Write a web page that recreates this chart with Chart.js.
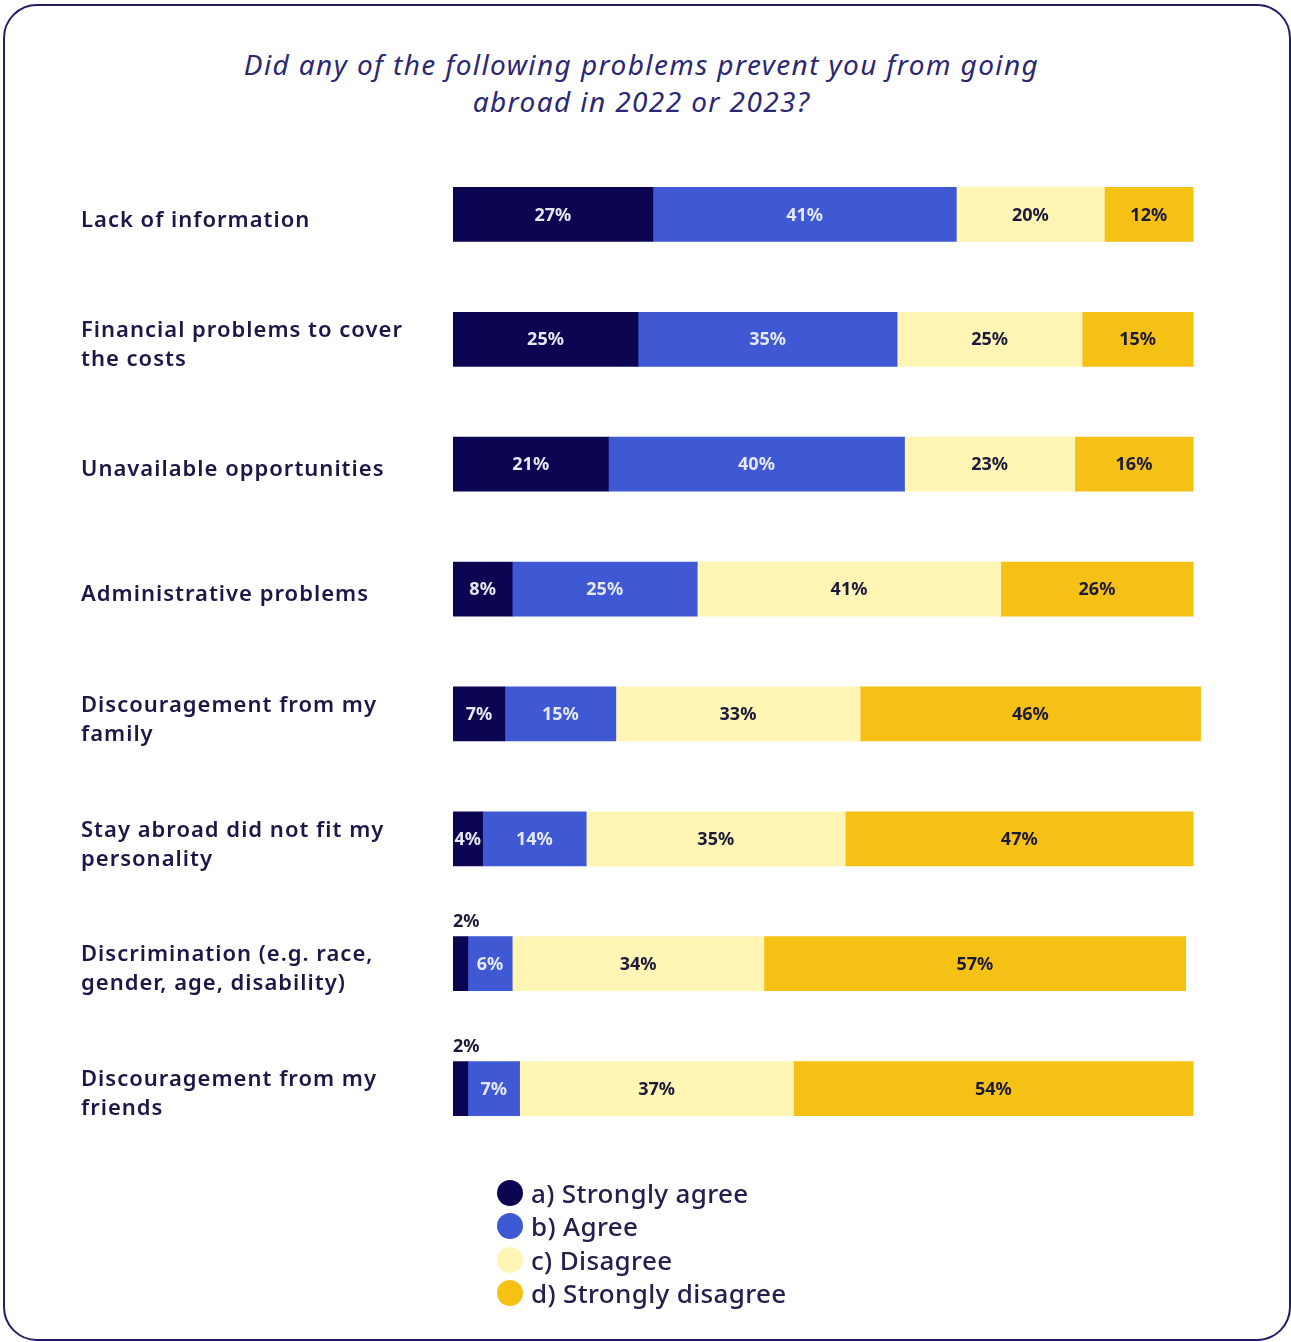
<!DOCTYPE html>
<html>
<head>
<meta charset="utf-8">
<script src="https://cdn.jsdelivr.net/npm/chart.js@4.4.1/dist/chart.umd.min.js"></script>
<style>
  html, body { margin: 0; padding: 0; background: #fff; }
  body { width: 1291px; height: 1342px; position: relative; overflow: hidden; font-family: "Noto Sans", sans-serif; }
  #card {
    position: absolute; left: 3px; top: 4px; width: 1288px; height: 1337px;
    box-sizing: border-box; border: 2px solid #231d66; border-radius: 34px;
  }
  #title {
    position: absolute; left: 0; top: 46px; width: 1283px; text-align: center;
    font-style: italic; font-size: 28px; line-height: 37px; letter-spacing: 1.4px; color: #2b2773;
  }
  #wrap { position: absolute; left: 0; top: 0; width: 1291px; height: 1342px; }
  #legend {
    position: absolute; left: 497px; top: 1176px; margin: 0; padding: 0; list-style: none;
  }
  #legend li {
    display: flex; align-items: center; height: 33.5px;
    font-size: 26px; font-weight: 500; letter-spacing: 0.35px; color: #23204d;
  }
  #legend span.dot {
    width: 26px; height: 26px; border-radius: 50%; margin-right: 8px; display: inline-block;
  }
</style>
</head>
<body>
<div id="card"></div>
<div id="title">Did any of the following problems prevent you from going<br>abroad in 2022 or 2023?</div>
<div id="wrap"><canvas id="chart"></canvas></div>
<ul id="legend"></ul>
<script>
const problems = [
    'Lack of information',
    ['Financial problems to cover', 'the costs'],
    'Unavailable opportunities',
    'Administrative problems',
    ['Discouragement from my', 'family'],
    ['Stay abroad did not fit my', 'personality'],
    ['Discrimination (e.g. race,', 'gender, age, disability)'],
    ['Discouragement from my', 'friends']
];

const answers = ['a) Strongly agree', 'b) Agree', 'c) Disagree', 'd) Strongly disagree'];

const stronglyAgree    = [27, 25, 21, 8, 7, 4, 2, 2];
const agree            = [41, 35, 40, 25, 15, 14, 6, 7];
const disagree         = [20, 25, 23, 41, 33, 35, 34, 37];
const stronglyDisagree = [12, 15, 16, 26, 46, 47, 57, 54];

const fills = ['#0c0552', '#3f58d4', '#fff5b4', '#f5c115'];
const inkColors = ['#e8e8f4', '#e4e8fa', '#1c1a3a', '#1c1a3a'];

const ctx = document.querySelector('#chart');

// wider tracking for the category names on the y axis
const axisSpacing = {
    id: 'axisSpacing',
    beforeDraw(chart) { chart.ctx.letterSpacing = '1px'; },
    beforeDatasetsDraw(chart) { chart.ctx.letterSpacing = '0px'; }
};

// percentages written on the bars; tiny slices get their label above the bar
const barLabels = {
    id: 'barLabels',
    afterDatasetsDraw(chart) {
        const c = chart.ctx;
        c.save();
        c.letterSpacing = '0px';
        c.font = 'bold 18px "Noto Sans"';
        c.textBaseline = 'middle';
        chart.data.datasets.forEach((ds, i) => {
            const meta = chart.getDatasetMeta(i);
            meta.data.forEach((bar, j) => {
                const v = ds.data[j];
                if (v < 3) {
                    c.fillStyle = '#1c1a3a';
                    c.textAlign = 'left';
                    c.fillText(v + '%', bar.base, bar.y - bar.height / 2 - 15);
                } else {
                    c.fillStyle = inkColors[i];
                    c.textAlign = 'center';
                    c.fillText(v + '%', (bar.base + bar.x) / 2, bar.y + 1);
                }
            });
        });
        c.restore();
    }
};

const chart = new Chart(ctx, {
    type: 'bar',
    data: {
        labels: problems,
        datasets: [stronglyAgree, agree, disagree, stronglyDisagree].map((vals, i) => ({
            label: answers[i],
            data: vals,
            backgroundColor: fills[i],
            borderWidth: 0,
            barThickness: 54
        }))
    },
    options: {
        indexAxis: 'y',
        responsive: true,
        maintainAspectRatio: false,
        animation: false,
        layout: { padding: { left: 81, right: 83, top: 152, bottom: 191 } },
        plugins: {
            legend: { display: false },
            tooltip: { enabled: false }
        },
        scales: {
            x: {
                stacked: true,
                min: 0,
                max: 102,
                display: false
            },
            y: {
                stacked: true,
                grid: { display: false },
                border: { display: false },
                afterFit(scale) { scale.width = 372; },
                ticks: {
                    crossAlign: 'far',
                    labelOffset: 6,
                    color: '#1b1847',
                    font: { family: '"Noto Sans"', size: 22, weight: '600', lineHeight: 1.32 }
                }
            }
        }
    },
    plugins: [axisSpacing, barLabels]
});

// legend list under the chart
const legendEl = document.querySelector('#legend');
chart.data.datasets.forEach(ds => {
    const li = document.createElement('li');
    const dot = document.createElement('span');
    dot.className = 'dot';
    dot.style.background = ds.backgroundColor;
    li.appendChild(dot);
    li.appendChild(document.createTextNode(ds.label));
    legendEl.appendChild(li);
});
</script>
</body>
</html>
